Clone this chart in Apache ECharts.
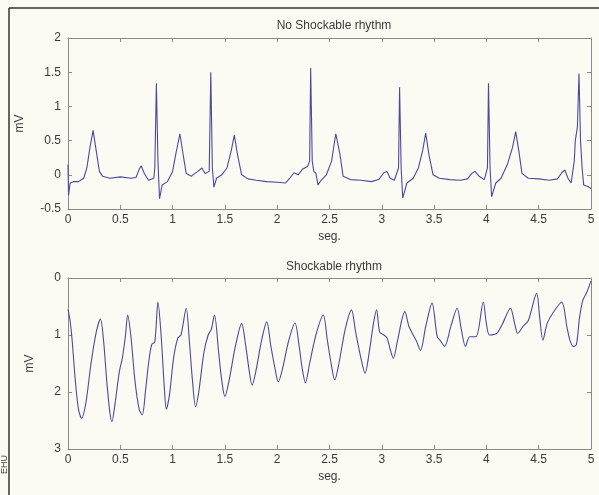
<!DOCTYPE html>
<html>
<head>
<meta charset="utf-8">
<script src="https://cdn.jsdelivr.net/npm/echarts@6/dist/echarts.min.js"></script>
<style>
  html, body { margin: 0; padding: 0; background: #fbfbf4; }
  #chart { width: 599px; height: 495px; }
</style>
</head>
<body>
<div id="chart"></div>
<script>
// 上图：无可除颤心律 (seg., mV)
var noShockTime = [0.00, 0.005, 0.02, 0.05, 0.10, 0.15, 0.18, 0.21, 0.24, 0.27, 0.30, 0.33, 0.40, 0.50, 0.60, 0.65, 0.68, 0.70, 0.73, 0.77,
    0.82, 0.83, 0.845, 0.86, 0.875, 0.90, 0.95, 1.00, 1.03, 1.07, 1.10, 1.13, 1.18, 1.24, 1.28, 1.31, 1.35, 1.365, 1.38, 1.395,
    1.42, 1.47, 1.52, 1.56, 1.59, 1.62, 1.66, 1.72, 1.80, 1.90, 2.00, 2.08, 2.12, 2.16, 2.20, 2.24, 2.29, 2.31, 2.32, 2.335,
    2.35, 2.37, 2.39, 2.42, 2.47, 2.52, 2.56, 2.60, 2.63, 2.70, 2.80, 2.90, 2.97, 3.02, 3.05, 3.08, 3.12, 3.16, 3.17, 3.185,
    3.20, 3.24, 3.30, 3.35, 3.39, 3.42, 3.45, 3.49, 3.55, 3.65, 3.75, 3.82, 3.86, 3.89, 3.93, 3.98, 4.01, 4.02, 4.035, 4.05,
    4.09, 4.14, 4.20, 4.25, 4.28, 4.31, 4.34, 4.40, 4.50, 4.60, 4.68, 4.72, 4.75, 4.78, 4.81, 4.84, 4.85, 4.87, 4.885, 4.90,
    4.915, 4.93, 4.97, 5.00];
var noShockMv = [0.15, -0.3, -0.12, -0.1, -0.1, -0.05, 0.1, 0.4, 0.65, 0.35, 0.05, -0.02, -0.05, -0.03, -0.05, -0.04, 0.08, 0.13, 0.02, -0.08,
    -0.05, 0.1, 1.34, 0.2, -0.35, -0.15, -0.1, 0.05, 0.3, 0.6, 0.3, 0.02, -0.02, 0.05, 0.1, 0.02, 0.05, 1.5, 0.1, -0.18,
    -0.05, 0.0, 0.1, 0.35, 0.58, 0.3, 0.0, -0.06, -0.08, -0.1, -0.11, -0.12, -0.05, 0.03, 0.0, 0.08, 0.12, 0.2, 1.56, 0.2,
    0.05, 0.02, -0.15, -0.08, 0.0, 0.2, 0.6, 0.3, -0.02, -0.07, -0.08, -0.1, -0.07, 0.03, 0.05, -0.05, -0.08, 0.1, 1.28, 0.1,
    -0.34, -0.12, -0.05, 0.1, 0.35, 0.61, 0.3, 0.0, -0.05, -0.07, -0.08, -0.06, 0.02, 0.05, -0.02, -0.07, 0.1, 1.34, 0.1, -0.32,
    -0.12, -0.05, 0.15, 0.4, 0.63, 0.35, 0.02, -0.05, -0.06, -0.08, -0.06, 0.03, 0.07, -0.05, -0.12, 0.2, 0.5, 0.7, 1.48, 0.5,
    0.1, -0.15, -0.17, -0.2];

// 下图：可除颤心律
var shockTime = [0.00, 0.02, 0.04, 0.07, 0.10, 0.13, 0.17, 0.22, 0.27, 0.31, 0.34, 0.37, 0.40, 0.42, 0.45, 0.49, 0.52, 0.55, 0.57, 0.60,
    0.64, 0.68, 0.71, 0.74, 0.77, 0.80, 0.83, 0.86, 0.89, 0.92, 0.94, 0.97, 1.01, 1.05, 1.08, 1.13, 1.16, 1.19, 1.22, 1.25,
    1.30, 1.34, 1.37, 1.40, 1.44, 1.47, 1.50, 1.54, 1.60, 1.66, 1.70, 1.73, 1.76, 1.80, 1.85, 1.90, 1.94, 1.98, 2.01, 2.05,
    2.11, 2.17, 2.21, 2.24, 2.27, 2.31, 2.37, 2.44, 2.48, 2.52, 2.55, 2.59, 2.65, 2.71, 2.75, 2.80, 2.84, 2.88, 2.92, 2.95,
    2.98, 3.02, 3.05, 3.08, 3.11, 3.15, 3.22, 3.26, 3.30, 3.33, 3.37, 3.42, 3.48, 3.53, 3.56, 3.60, 3.66, 3.72, 3.76, 3.80,
    3.84, 3.90, 3.97, 4.00, 4.03, 4.10, 4.15, 4.23, 4.27, 4.30, 4.35, 4.40, 4.48, 4.51, 4.54, 4.58, 4.64, 4.72, 4.77, 4.80,
    4.83, 4.86, 4.89, 4.92, 4.96, 5.00];
var shockMv = [0.55, 0.75, 1.1, 1.8, 2.3, 2.46, 2.2, 1.5, 0.95, 0.72, 1.1, 1.8, 2.35, 2.52, 2.2, 1.65, 1.4, 1.0, 0.65, 1.0,
    1.8, 2.3, 2.4, 2.0, 1.5, 1.17, 1.12, 0.42, 1.0, 1.9, 2.3, 2.05, 1.4, 1.05, 1.0, 0.53, 1.1, 1.8, 2.26, 2.0,
    1.3, 1.0, 0.9, 0.65, 1.3, 1.8, 2.08, 1.8, 1.2, 0.8, 1.2, 1.6, 1.88, 1.6, 1.1, 0.77, 1.2, 1.6, 1.82, 1.6,
    1.1, 0.79, 1.2, 1.6, 1.84, 1.5, 1.0, 0.65, 1.1, 1.55, 1.79, 1.5, 0.9, 0.56, 0.95, 1.4, 1.67, 1.3, 0.8, 0.56,
    0.95, 1.0, 1.05, 1.25, 1.41, 1.1, 0.59, 0.85, 1.0, 1.1, 1.27, 0.85, 0.44, 1.03, 1.1, 1.2, 0.85, 0.53, 0.9, 1.2,
    1.03, 1.03, 0.42, 0.8, 1.0, 0.97, 0.82, 0.53, 0.8, 0.97, 0.85, 0.75, 0.27, 0.7, 1.09, 0.8, 0.6, 0.42, 0.86, 1.1,
    1.2, 1.17, 0.7, 0.4, 0.25, 0.05];

var titles = ['No Shockable rhythm', 'Shockable rhythm'];

function zip(xs, ys) {
    var out = [];
    for (var i = 0; i < xs.length; i++) {
        out.push([xs[i], ys[i]]);
    }
    return out;
}

var FONT = 'Liberation Sans';
var AXIS_COLOR = '#8a8a8a';
var LABEL_COLOR = '#3a3a3a';
var LINE_COLOR = '#4a4a9c';

function xAxisPair(grid) {
    return [
        {
            type: 'value', gridIndex: grid, min: 0, max: 5, interval: 0.5,
            name: 'seg.', nameLocation: 'middle', nameGap: 22,
            nameTextStyle: { color: LABEL_COLOR, fontFamily: FONT, fontSize: 12 },
            axisLine: { onZero: false, lineStyle: { color: AXIS_COLOR } },
            axisTick: { inside: true, length: 4, lineStyle: { color: AXIS_COLOR } },
            axisLabel: { color: LABEL_COLOR, fontFamily: FONT, fontSize: 12, margin: 5 },
            splitLine: { show: false }
        },
        {
            type: 'value', gridIndex: grid, min: 0, max: 5, interval: 0.5, position: 'top',
            axisLine: { onZero: false, lineStyle: { color: AXIS_COLOR } },
            axisTick: { inside: true, length: 4, lineStyle: { color: AXIS_COLOR } },
            axisLabel: { show: false },
            splitLine: { show: false }
        }
    ];
}

function yAxisPair(grid, min, max, interval, inverse, nameGap) {
    return [
        {
            type: 'value', gridIndex: grid, min: min, max: max, interval: interval, inverse: inverse,
            name: 'mV', nameLocation: 'middle', nameGap: nameGap,
            nameTextStyle: { color: LABEL_COLOR, fontFamily: FONT, fontSize: 12 },
            axisLine: { show: true, onZero: false, lineStyle: { color: AXIS_COLOR } },
            axisTick: { show: true, inside: true, length: 4, lineStyle: { color: AXIS_COLOR } },
            axisLabel: { color: LABEL_COLOR, fontFamily: FONT, fontSize: 12, margin: 7 },
            splitLine: { show: false }
        },
        {
            type: 'value', gridIndex: grid, min: min, max: max, interval: interval, inverse: inverse,
            position: 'right',
            axisLine: { show: true, onZero: false, lineStyle: { color: AXIS_COLOR } },
            axisTick: { show: true, inside: true, length: 4, lineStyle: { color: AXIS_COLOR } },
            axisLabel: { show: false },
            splitLine: { show: false }
        }
    ];
}

var myChart = echarts.init(document.getElementById('chart'), null, { renderer: 'canvas' });

var option = {
    backgroundColor: '#fbfbf4',
    animation: false,
    title: [
        { text: titles[0], left: 329, top: 15, textAlign: 'center',
          textStyle: { color: LABEL_COLOR, fontFamily: FONT, fontSize: 12, fontWeight: 'normal' } },
        { text: titles[1], left: 329, top: 256, textAlign: 'center',
          textStyle: { color: LABEL_COLOR, fontFamily: FONT, fontSize: 12, fontWeight: 'normal' } }
    ],
    grid: [
        { left: 68, top: 38, width: 523, height: 171 },
        { left: 68, top: 278, width: 523, height: 171 }
    ],
    xAxis: xAxisPair(0).concat(xAxisPair(1)),
    yAxis: yAxisPair(0, -0.5, 2, 0.5, false, 42).concat(yAxisPair(1, 0, 3, 1, true, 32)),
    series: [
        {
            name: titles[0], type: 'line', xAxisIndex: 0, yAxisIndex: 0,
            showSymbol: false, data: zip(noShockTime, noShockMv),
            lineStyle: { color: LINE_COLOR, width: 1.1 }
        },
        {
            name: titles[1], type: 'line', xAxisIndex: 2, yAxisIndex: 2,
            showSymbol: false, smooth: 0.3, data: zip(shockTime, shockMv),
            lineStyle: { color: LINE_COLOR, width: 1.1 }
        }
    ],
    graphic: [
        // 外框
        { type: 'line', shape: { x1: 9, y1: 8, x2: 599, y2: 8 }, style: { stroke: '#333', lineWidth: 1.5 } },
        { type: 'line', shape: { x1: 9, y1: 8, x2: 9, y2: 495 }, style: { stroke: '#333', lineWidth: 1.5 } },
        { type: 'text', x: 0, y: 474, rotation: Math.PI / 2,
          style: { text: 'EHU', fill: '#444', font: '9px "Liberation Sans"' } }
    ]
};

myChart.setOption(option);
</script>
</body>
</html>
